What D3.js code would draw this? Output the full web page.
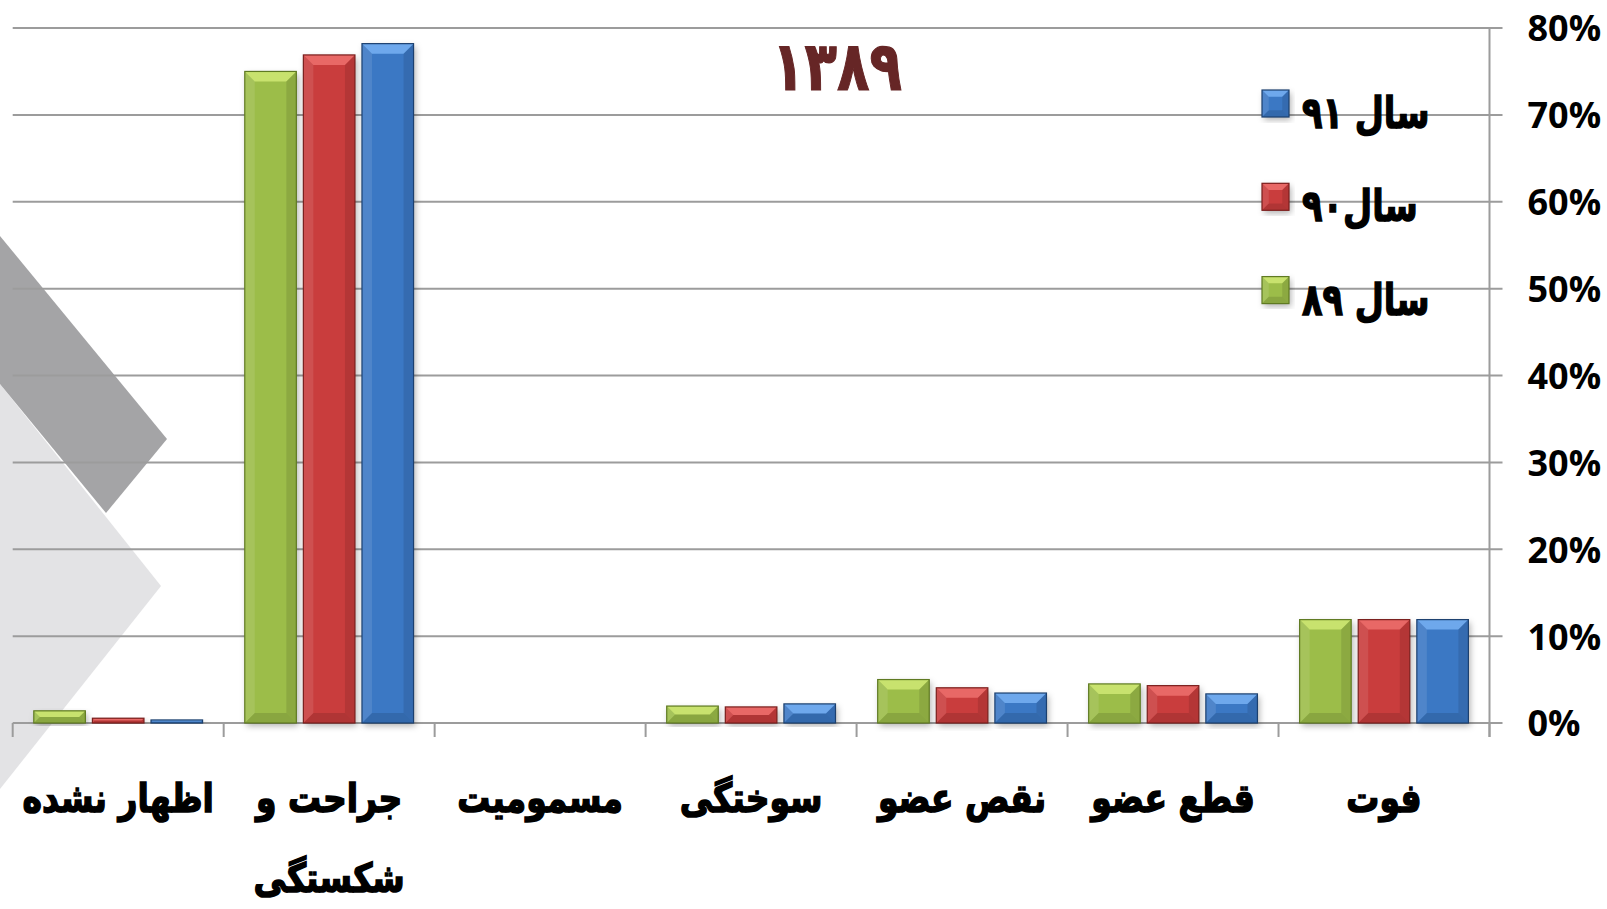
<!DOCTYPE html>
<html>
<head>
<meta charset="utf-8">
<script src="https://cdn.jsdelivr.net/npm/d3@7"></script>
<style>
  html, body { margin: 0; padding: 0; background: #fff; }
  svg { display: block; }
  .cat-label { font-family: "DejaVu Sans"; font-weight: bold; font-size: 34px; fill: #000; stroke: #000; stroke-width: 1.3px; }
  .pct { font-family: "Open Sans"; font-weight: 700; font-size: 36px; fill: #000; }
  .legend-text { font-family: "DejaVu Sans"; font-weight: bold; font-size: 40px; fill: #000; stroke: #000; stroke-width: 1.3px; }
  .title { font-family: "DejaVu Sans"; font-weight: bold; font-size: 56px; fill: #662626; stroke: #662626; stroke-width: 1px; }
</style>
</head>
<body>
<svg class="chart" width="1607" height="909"></svg>
<script>
// data (percent)
const categories = ["اظهار نشده", "جراحت و شکستگی", "مسمومیت", "سوختگی", "نقص عضو", "قطع عضو", "فوت"];
const seriesNames = ["سال ۸۹", "سال۹۰", "سال ۹۱"];
const values89 = [1.4, 75.0, 0, 1.95, 5.0, 4.5, 11.9];
const values90 = [0.55, 76.9, 0, 1.85, 4.05, 4.3, 11.9];
const values91 = [0.35, 78.2, 0, 2.2, 3.45, 3.35, 11.9];
const yTicks = [0, 10, 20, 30, 40, 50, 60, 70, 80];
const chartTitle = "۱۳۸۹";

// config
const plotLeft = 12.7;
const plotRight = 1489.5;
const plotTop = 28;
const plotBottom = 723;
const labelScaleY = 1.18;
const colors = [
  { base: "#9cbd48", light: "#c8e26e", dark: "#5f7a22" },
  { base: "#c93e3c", light: "#e86866", dark: "#7a1f1d" },
  { base: "#3b78c4", light: "#6ea8ec", dark: "#1c406f" }
];

const svg = d3.select("svg.chart");

// soft shadow
const defs = svg.append("defs");
const f = defs.append("filter").attr("id", "shadow")
  .attr("x", "-20%").attr("y", "-20%").attr("width", "140%").attr("height", "140%");
f.append("feDropShadow").attr("dx", 2).attr("dy", 3).attr("stdDeviation", 3)
  .attr("flood-color", "#000").attr("flood-opacity", 0.3);

// slide decoration on the left
svg.append("polygon")
  .attr("points", "0,384 161,586 0,789")
  .attr("fill", "#e3e3e5");
svg.append("polygon")
  .attr("points", "0,236 167,439 106,513 0,384")
  .attr("fill", "#a4a4a6");

const x0 = d3.scaleBand()
  .domain(categories)
  .range([plotLeft, plotRight])
  .paddingInner(0.2)
  .paddingOuter(0.1);

const x1 = d3.scaleBand()
  .domain(d3.range(seriesNames.length))
  .range([0, x0.bandwidth()])
  .paddingInner(0.12);

const y = d3.scaleLinear().domain([0, 80]).range([plotBottom, plotTop]);

// gridlines
svg.append("g").attr("class", "grid")
  .selectAll("line")
  .data(yTicks)
  .enter().append("line")
  .attr("x1", plotLeft).attr("x2", plotRight + 13)
  .attr("y1", d => y(d)).attr("y2", d => y(d))
  .attr("stroke", "#9c9c9c").attr("stroke-width", 2);

// right axis
const yAxis = d3.axisRight(y).tickValues(yTicks).tickSize(0).tickPadding(38)
  .tickFormat(d => d + "%");
const gy = svg.append("g").attr("transform", `translate(${plotRight},0)`).call(yAxis);
gy.select(".domain").remove();
gy.selectAll("text").attr("class", "pct").attr("fill", null).attr("font-size", null)
  .attr("font-family", null).attr("dy", "0.36em");
svg.append("line")
  .attr("x1", plotRight).attr("x2", plotRight)
  .attr("y1", plotTop).attr("y2", plotBottom + 14)
  .attr("stroke", "#9c9c9c").attr("stroke-width", 2);

// category ticks
const step = x0.step();
const boundaries = categories.map(c => x0(c) - step * x0.paddingInner() / 2)
  .concat([plotRight]);
svg.append("g").selectAll("line")
  .data(boundaries)
  .enter().append("line")
  .attr("x1", d => d).attr("x2", d => d)
  .attr("y1", plotBottom).attr("y2", plotBottom + 14)
  .attr("stroke", "#9c9c9c").attr("stroke-width", 2);

// bars
const seriesValues = [values89, values90, values91];
const rows = [];
categories.forEach((c, i) => {
  seriesValues.forEach((vals, s) => rows.push({ cat: c, s, v: vals[i] }));
});

function bevelBar(g, bx, by, w, h, col) {
  if (h <= 0) return;
  const b = Math.min(10, h / 2, w / 4);
  g.append("rect").attr("x", bx).attr("y", by).attr("width", w).attr("height", h)
    .attr("fill", col.base).attr("filter", "url(#shadow)");
  // top bevel
  g.append("polygon")
    .attr("points", [[bx, by], [bx + w, by], [bx + w - b, by + b], [bx + b, by + b]].join(" "))
    .attr("fill", col.light);
  // left side
  g.append("polygon")
    .attr("points", [[bx, by], [bx + b, by + b], [bx + b, by + h - b], [bx, by + h]].join(" "))
    .attr("fill", "#fff").attr("opacity", 0.1);
  // right side
  g.append("polygon")
    .attr("points", [[bx + w, by], [bx + w - b, by + b], [bx + w - b, by + h - b], [bx + w, by + h]].join(" "))
    .attr("fill", "#000").attr("opacity", 0.1);
  // bottom
  g.append("polygon")
    .attr("points", [[bx, by + h], [bx + b, by + h - b], [bx + w - b, by + h - b], [bx + w, by + h]].join(" "))
    .attr("fill", "#000").attr("opacity", 0.12);
  g.append("rect").attr("x", bx).attr("y", by).attr("width", w).attr("height", h)
    .attr("fill", "none").attr("stroke", col.dark).attr("stroke-width", 1.2);
}

const barLayer = svg.append("g").attr("class", "bars");
rows.forEach(r => {
  const bx = x0(r.cat) + x1(r.s);
  const by = y(r.v);
  bevelBar(barLayer.append("g"), bx, by, x1.bandwidth(), y(0) - by, colors[r.s]);
});

// category labels, wrapped when wider than a band
const labels = svg.append("g").selectAll("text")
  .data(categories)
  .enter().append("text")
  .attr("class", "cat-label")
  .attr("text-anchor", "middle")
  .attr("transform", d => `translate(${x0(d) + x0.bandwidth() / 2},812) scale(0.97,${labelScaleY})`)
  .attr("x", 0)
  .each(function (d) {
    const el = d3.select(this);
    const words = d.split(" ");
    let line = [];
    let lines = [];
    el.text(d);
    if (this.getComputedTextLength() <= step) { return; }
    el.text(null);
    words.forEach(w => {
      const test = line.concat([w]).join(" ");
      el.text(test);
      if (this.getComputedTextLength() > step * 0.8 && line.length) {
        lines.push(line.join(" "));
        line = [w];
      } else {
        line.push(w);
      }
    });
    lines.push(line.join(" "));
    el.text(null);
    lines.forEach((t, k) => {
      el.append("tspan").attr("x", 0)
        .attr("dy", k === 0 ? 0 : 80 / labelScaleY).text(t);
    });
  });

// title
svg.append("text").attr("class", "title")
  .attr("text-anchor", "middle")
  .attr("transform", "translate(837,90) scale(0.95,1.22)")
  .text(chartTitle);

// legend (top to bottom: 91, 90, 89)
const legendOrder = [2, 1, 0];
const legend = svg.append("g").selectAll("g")
  .data(legendOrder)
  .enter().append("g")
  .attr("transform", (d, i) => `translate(1262, ${90 + i * 93.3})`);
legend.each(function (s) {
  bevelBar(d3.select(this), 0, 0, 27, 27, colors[s]);
});
legend.append("text").attr("class", "legend-text")
  .attr("text-anchor", "start")
  .attr("transform", "translate(40,38) scale(0.84,1.1)")
  .text(s => seriesNames[s]);
</script>
</body>
</html>
